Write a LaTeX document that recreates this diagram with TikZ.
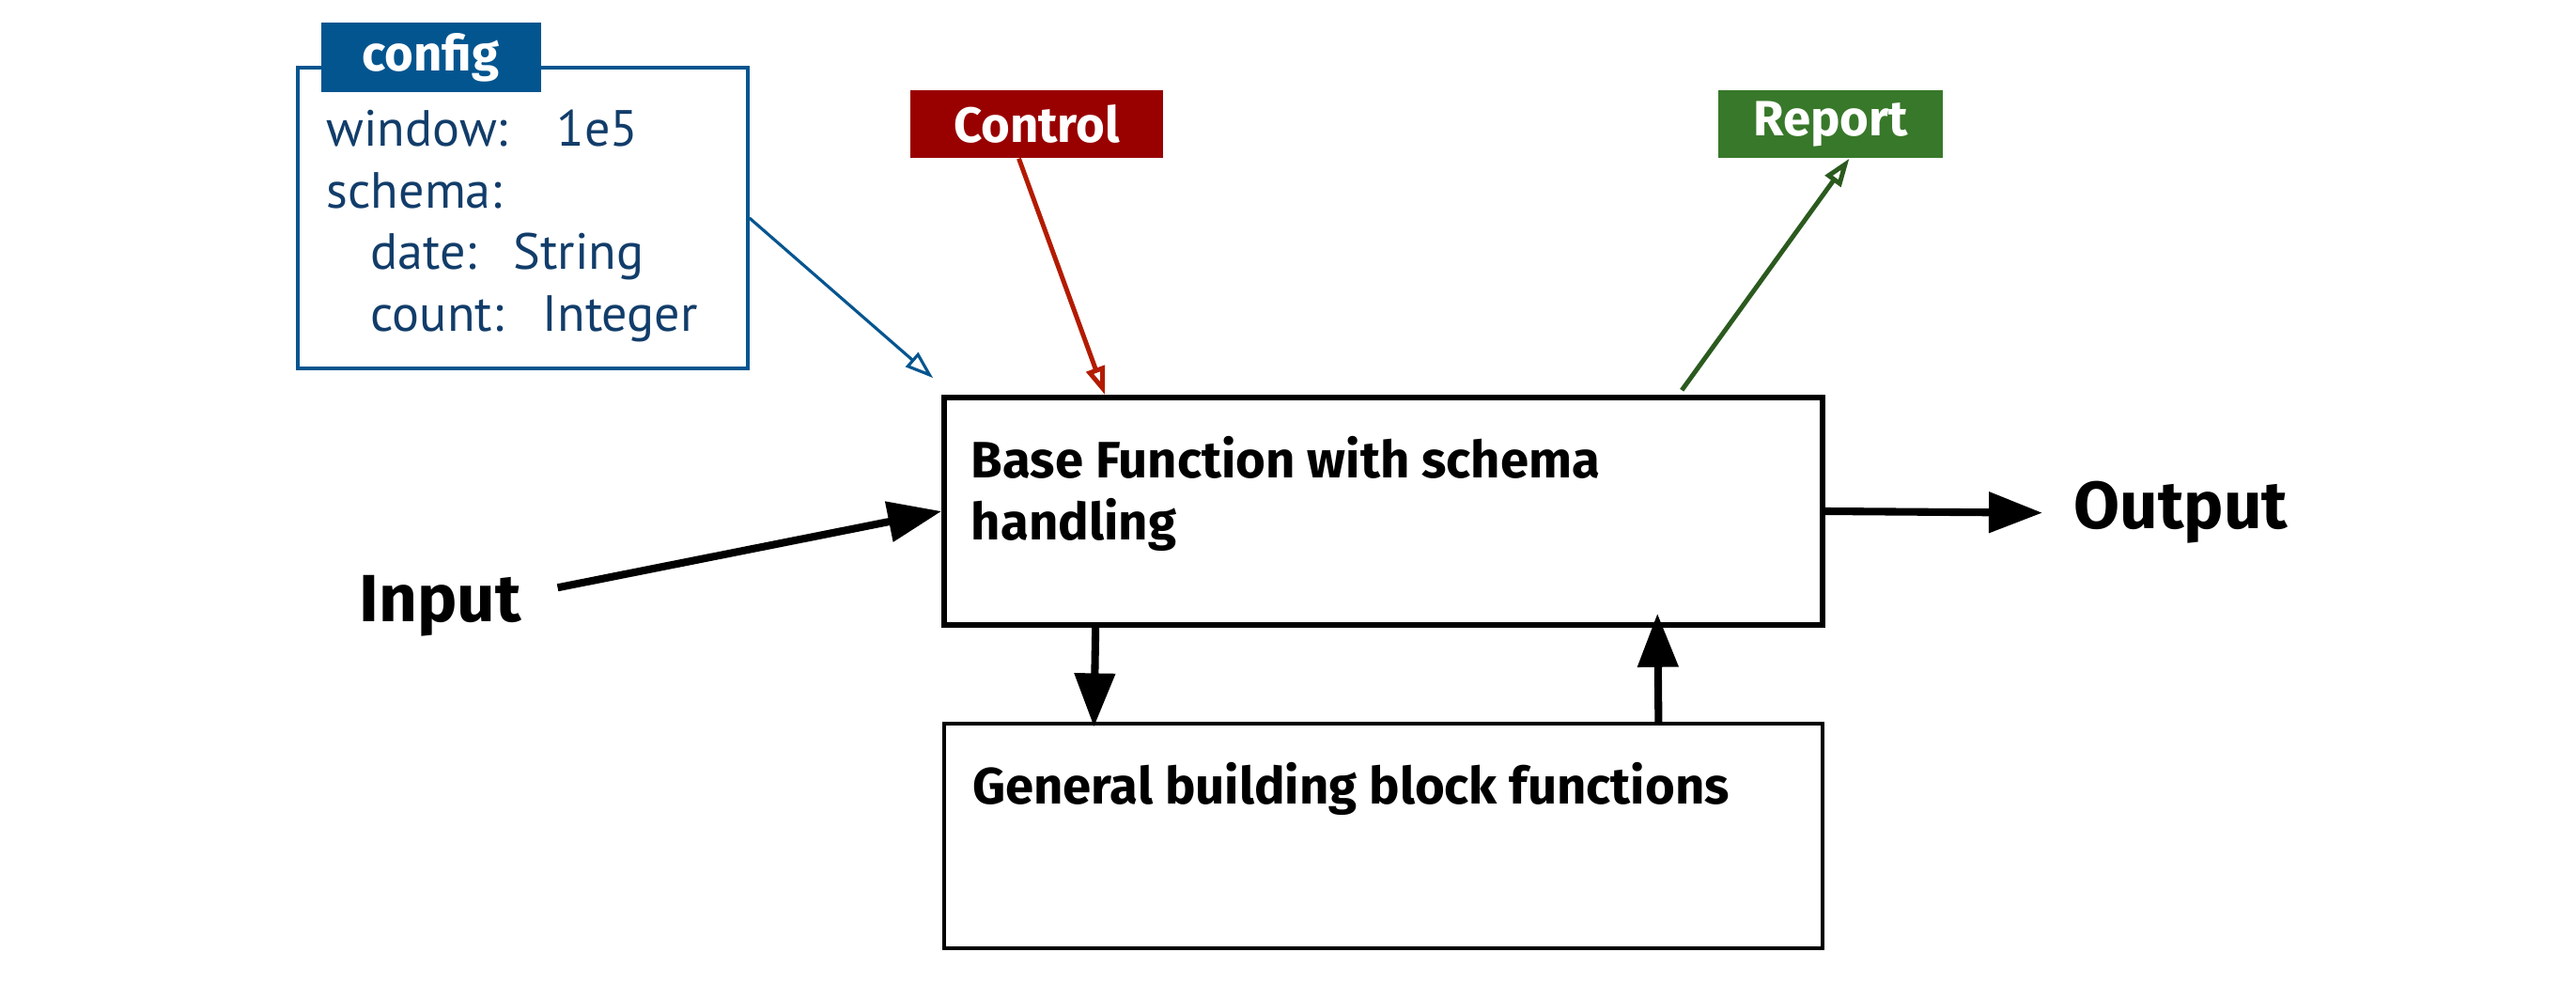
\documentclass[tikz,border=0pt]{standalone}
\usepackage{fontspec}
\setmainfont{PT Sans}
\newfontfamily\boldsans{Fira Sans}
\usetikzlibrary{arrows.meta,positioning}
\definecolor{cfgblue}{HTML}{03558F}
\definecolor{cfgink}{HTML}{123D6A}
\definecolor{ctlred}{HTML}{990000}
\definecolor{ctlline}{HTML}{B31B00}
\definecolor{repgreen}{HTML}{38782A}
\definecolor{repline}{HTML}{2B5A1E}
\tikzset{
  blk/.style={draw=black, line width=1.6pt, inner sep=0pt},
  blk2/.style={blk, line width=0.9pt},
  txt/.style={font=\boldsans\fontsize{15.5}{19}\selectfont\bfseries, align=left, inner sep=0pt, anchor=north west},
  tag/.style={inner sep=0pt, text=white, font=\boldsans\fontsize{15}{18}\selectfont\bfseries},
  cfgbox/.style={draw=cfgblue, line width=1pt, inner sep=0pt},
  cfgtxt/.style={inner sep=0pt, anchor=base west, text=cfgink, font=\fontsize{15.4}{18}\selectfont},
  big/.style={inner sep=0pt, anchor=base west, font=\boldsans\fontsize{20.2}{24}\selectfont\bfseries},
  arr/.style={-{Triangle[length=5.7mm, width=4.2mm]}, line width=2.3pt},
  sig/.style={-{Triangle[open, length=3mm, width=2mm]}, line width=1.4pt},
}
\begin{document}
\begin{tikzpicture}
  \useasboundingbox (0,0) rectangle (27.42,10.62);
  \node[cfgbox, minimum width=4.79cm, minimum height=3.20cm] (cfg) at (5.565,8.30) {};
  \node[tag, fill=cfgblue, minimum width=2.34cm, minimum height=0.74cm] (cfgtab) at (4.585,10.005) {config};
  \foreach \nm/\x/\y/\tx in {k1/3.47/9.06/{window:}, v1/5.92/9.06/{1e5}, k2/3.47/8.40/{schema:},
    k3/3.94/7.75/{date:}, v3/5.46/7.75/{String}, k4/3.94/7.09/{count:}, v4/5.77/7.09/{Integer}}
    \node[cfgtxt] (\nm) at (\x,\y) {\tx};
  \node[tag, fill=ctlred, minimum width=2.69cm, minimum height=0.72cm] (ctl) at (11.035,9.30) {Control};
  \node[tag, fill=repgreen, minimum width=2.39cm, minimum height=0.72cm] (rep) at (19.485,9.30) {Report};
  \node[blk, minimum width=9.35cm, minimum height=2.42cm] (base) at (14.725,5.18) {};
  \node[blk2, minimum width=9.35cm, minimum height=2.39cm] (gen) at (14.725,1.725) {};
  \node[txt] (basetxt) at ([shift={(0.31,-0.43)}]base.north west) {Base Function with schema\\handling};
  \node[txt] (gentxt) at ([shift={(0.31,-0.42)}]gen.north west) {General building block functions};
  \node[big] (inp) at (3.82,4.00) {Input};
  \node[big] (out) at (22.07,4.99) {Output};
  \draw[arr] ([shift={(0.38,0.2)}]inp.east) -- (base.west);
  \draw[arr] (base.east) -- ([xshift=-0.33cm]out.west);
  \draw[arr] ([xshift=1.64cm]base.south west) -- ([shift={(1.61cm,-0.05cm)}]gen.north west);
  \draw[arr] ([xshift=7.62cm]gen.north west) -- ([shift={(7.62cm,0.15cm)}]base.south west);
  \draw[sig, draw=cfgblue, line width=0.9pt] (cfg.east) -- ([shift={(-0.09,0.18)}]base.north west);
  \draw[sig, draw=ctlline] ([xshift=-0.19cm]ctl.south) -- ([xshift=1.74cm]base.north west);
  \draw[sig, draw=repline] ([shift={(7.88,0.05)}]base.north west) -- ([xshift=0.2cm]rep.south);
\end{tikzpicture}
\end{document}
